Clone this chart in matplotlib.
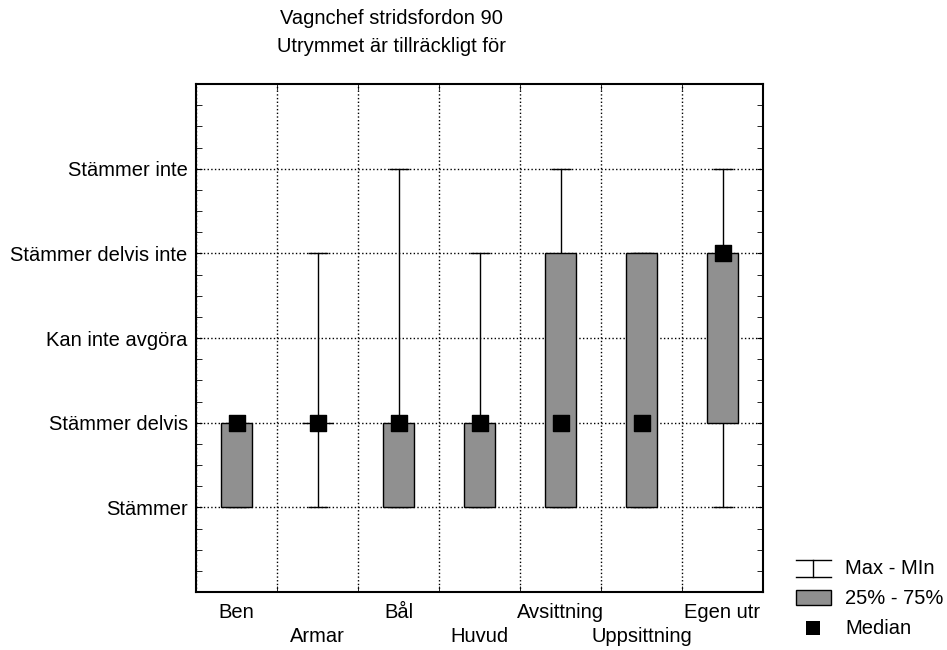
import matplotlib.pyplot as plt
from matplotlib.lines import Line2D
from matplotlib.patches import Rectangle
import numpy as np

plt.rcParams['font.family'] = ['Liberation Sans', 'DejaVu Sans']

# data
categories = ['Ben', 'Armar', 'Bål', 'Huvud', 'Avsittning', 'Uppsittning', 'Egen utr']
y_levels = ['Stämmer', 'Stämmer delvis', 'Kan inte avgöra', 'Stämmer delvis inte', 'Stämmer inte']
mins = [1, 1, 1, 1, 1, 1, 1]
maxs = [2, 4, 5, 4, 5, 4, 5]
q25 = [1, 2, 1, 1, 1, 1, 2]
q75 = [2, 2, 2, 2, 4, 4, 4]
medians = [2, 2, 2, 2, 2, 2, 4]

W, H = 947, 650
fig = plt.figure(figsize=(W / 100, H / 100), dpi=100)
ax = fig.add_axes([196 / W, 1 - 592 / H, (763 - 196) / W, (592 - 84) / H])

x = np.arange(len(categories))
mins = np.array(mins)
maxs = np.array(maxs)
q25 = np.array(q25)
q75 = np.array(q75)

# whiskers
ax.errorbar(x, (mins + maxs) / 2, yerr=(maxs - mins) / 2, fmt='none',
            ecolor='black', elinewidth=1, capsize=7, capthick=1, zorder=2)
# boxes
ax.bar(x, q75 - q25, bottom=q25, width=0.38, color='#909090',
       edgecolor='black', linewidth=1, zorder=3)
# medians
ax.scatter(x, medians, marker='s', s=135, color='black', zorder=4)

ax.set_xlim(-0.5, len(categories) - 0.5)
ax.set_ylim(0, 6)

ax.set_yticks(range(1, 6))
ax.set_yticklabels(y_levels)
ax.set_yticks(np.arange(0, 6.01, 0.25), minor=True)

# staggered category labels
ax.set_xticks(x)
ax.set_xticklabels([])
ax.set_xticks(np.arange(-0.5, len(categories), 1), minor=True)
for i, c in enumerate(categories):
    yoff = -20 / 508 if i % 2 == 0 else -44 / 508
    ax.text(x[i], yoff, c, transform=ax.get_xaxis_transform(),
            ha='center', va='center', fontsize=14.5)

ax.tick_params(axis='x', which='major', length=0)
ax.tick_params(axis='x', which='minor', direction='in', length=4, top=True)
ax.tick_params(axis='y', which='both', direction='in', length=4, right=True,
               labelsize=14.5, pad=6)

ax.grid(True, axis='y', which='major', linestyle=':', color='black', linewidth=1)
ax.grid(True, axis='x', which='minor', linestyle=':', color='black', linewidth=1)
ax.set_axisbelow(True)
for s in ax.spines.values():
    s.set_linewidth(1.5)

# title
fig.text(391 / W, 1 - 18 / H, 'Vagnchef stridsfordon 90', ha='center', va='center', fontsize=14.5)
fig.text(391 / W, 1 - 47 / H, 'Utrymmet är tillräckligt för', ha='center', va='center', fontsize=14.5)

# legend
def fx(px):
    return px / W

def fy(py):
    return 1 - py / H

fig.add_artist(Line2D([fx(796), fx(831)], [fy(560), fy(560)], color='black', lw=1))
fig.add_artist(Line2D([fx(796), fx(831)], [fy(577), fy(577)], color='black', lw=1))
fig.add_artist(Line2D([fx(813), fx(813)], [fy(560), fy(577)], color='black', lw=1))
fig.add_artist(Rectangle((fx(796), fy(605)), fx(831) - fx(796), fy(590) - fy(605),
                         facecolor='#909090', edgecolor='black', lw=1, transform=fig.transFigure))
fig.add_artist(Rectangle((fx(806), fy(635)), fx(820) - fx(806), fy(621) - fy(635),
                         facecolor='black', edgecolor='black', lw=0, transform=fig.transFigure))
fig.text(fx(845), fy(569), 'Max - MIn', va='center', fontsize=14.5)
fig.text(fx(845), fy(598), '25% - 75%', va='center', fontsize=14.5)
fig.text(fx(845), fy(628), 'Median', va='center', fontsize=14.5)

fig.savefig('out.png', dpi=100)
